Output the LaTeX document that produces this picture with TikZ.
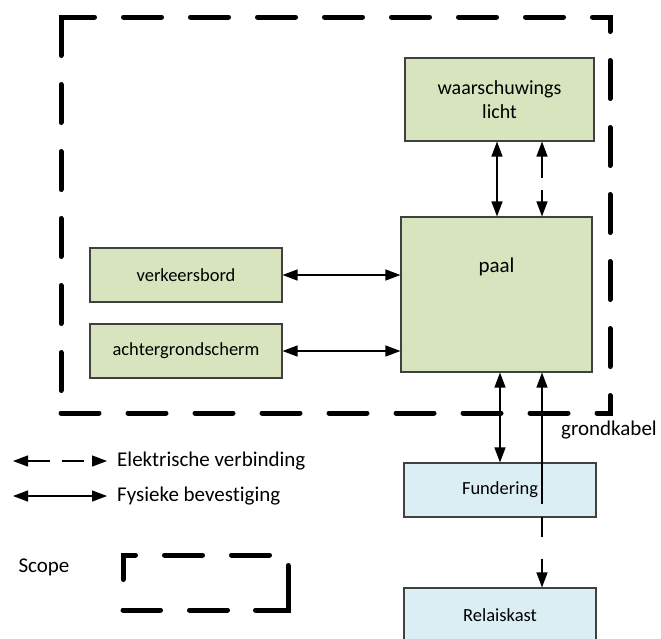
\documentclass[tikz,border=0pt]{standalone}
\usepackage{fontspec}
\setmainfont[Ligatures=NoCommon]{Carlito}
\usetikzlibrary{arrows.meta}
\definecolor{boxgreen}{HTML}{D7E4BD}
\definecolor{boxblue}{HTML}{DAEEF3}
\definecolor{boxline}{HTML}{404040}
\begin{document}
\begin{tikzpicture}[x=1pt,y=-1pt,
  basebox/.style={draw=boxline, line width=1.1pt, inner sep=0pt, align=center, font=\fontsize{18.5}{24}\selectfont},
  greenbox/.style={basebox, fill=boxgreen},
  bluebox/.style={basebox, fill=boxblue},
  phys/.style={line width=1.2pt, {Triangle[length=15pt,width=11pt]}-{Triangle[length=15pt,width=11pt]}},
  elec/.style={phys, dash pattern=on 22pt off 12pt},
  scopeline/.style={line width=5pt, line cap=round, line join=miter},
  bigtext/.style={font=\fontsize{21}{25}\selectfont, inner sep=0pt},
  legendtext/.style={bigtext, anchor=west}]
\useasboundingbox (0,0) rectangle (661,638);

% scope boundary (thick dashed)
\foreach \k in {0,...,6} \draw[scopeline] ({123.5+67*\k},17) -- ({161.5+67*\k},17);
\foreach \k in {0,...,4} \draw[scopeline] (610,{60.5+67*\k}) -- (610,{98.5+67*\k});
\foreach \k in {0,...,7} \draw[scopeline] ({61+67*\k},413) -- ({99+67*\k},413);
\foreach \k in {0,...,4} \draw[scopeline] (61,{352.5-67*\k}) -- (61,{390.5-67*\k});
\draw[scopeline] (61,55.5) -- (61,17) -- (94.5,17);
\draw[scopeline] (592.5,17) -- (610,17) -- (610,31.5);
\draw[scopeline] (610,395.5) -- (610,413) -- (597,413);

% nodes
\node[greenbox, minimum width=189pt, minimum height=83pt, font=\fontsize{20}{24}\selectfont] (licht) at (499.5,99.5) {waarschuwings\\licht};
\node[greenbox, minimum width=191pt, minimum height=155pt] (paal) at (496.5,294.5) {};
\node[bigtext] (paallabel) at ([yshift=-50pt]paal.north) {paal};
\node[greenbox, minimum width=192pt, minimum height=54pt] (verk) at (186,275) {verkeersbord};
\node[greenbox, minimum width=192pt, minimum height=54pt] (achter) at (186,351) {achtergrondscherm};
\node[bluebox, minimum width=192pt, minimum height=54pt] (fund) at (500,490) {Fundering};
\node[bluebox, minimum width=192pt, minimum height=54pt] (relais) at (500,615) {Relaiskast};

% connectors
\draw[phys] (verk.east) -- (verk.east -| paal.west);
\draw[phys] (achter.east) -- (achter.east -| paal.west);
\draw[phys] ([xshift=-2.5pt]licht.south) -- ([xshift=-2.5pt]licht.south |- paal.north);
\draw[elec] ([xshift=42.5pt]licht.south) -- ([xshift=42.5pt]licht.south |- paal.north);
\draw[phys] ([xshift=3.5pt]paal.south) -- (fund.north);
\draw[phys, dash pattern=on 117pt off 13pt on 20pt off 22pt on 60pt] ([xshift=45.5pt]paal.south) -- ([xshift=45.5pt]paal.south |- relais.north);
\node[bigtext] (grond) at (609,430) {grondkabel};

% legend
\coordinate (e1) at (13,461);
\coordinate (e2) at (107,461);
\draw[elec] (e1) -- (e2);
\node[legendtext] (etext) at (117,461) {Elektrische verbinding};
\coordinate (f1) at (13,496);
\coordinate (f2) at (107,496);
\draw[phys] (f1) -- (f2);
\node[legendtext] (ftext) at (117,496) {Fysieke bevestiging};

\node[bigtext] (scopetext) at (44,567) {Scope};
\draw[scopeline] (123,579.5) -- (123,555) -- (135.5,555);
\draw[scopeline] (164.5,555) -- (202.5,555);
\draw[scopeline] (231.5,555) -- (269.5,555);
\draw[scopeline] (288,565.5) -- (288,610) -- (255.5,610);
\draw[scopeline] (227.5,610) -- (189.5,610);
\draw[scopeline] (160.5,610) -- (123,610);
\end{tikzpicture}
\end{document}
